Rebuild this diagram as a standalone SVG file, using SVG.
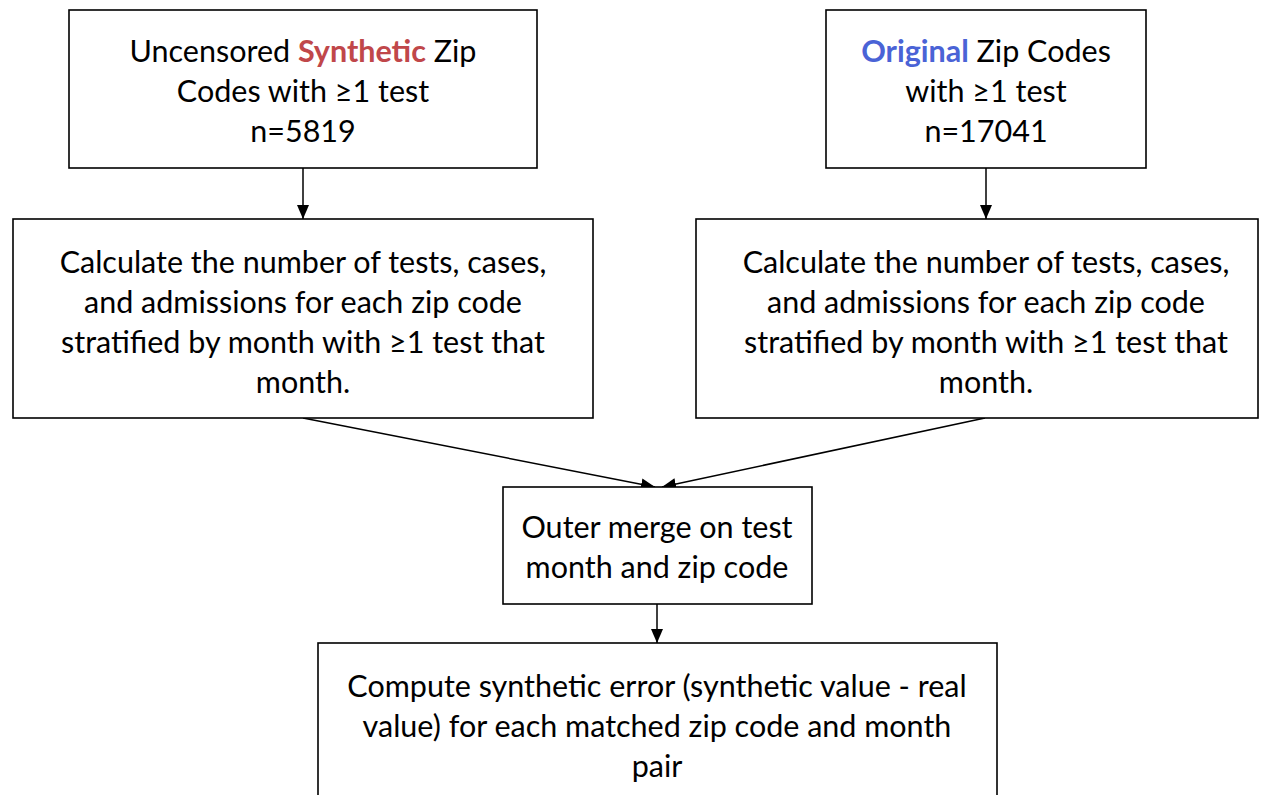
<svg xmlns="http://www.w3.org/2000/svg" width="1263" height="795" viewBox="0 0 1263 795">
  <style>
    .box { fill: #ffffff; stroke: #000000; stroke-width: 1.6; }
    .label { font-family: Lato, "Open Sans", sans-serif; font-size: 30.5px; fill: #000000; text-anchor: middle; }
    .syn { fill: #c0474a; font-weight: bold; }
    .orig { fill: #4a63d6; font-weight: bold; }
    .edge { stroke: #000000; stroke-width: 1.5; fill: none; marker-end: url(#arrow); }
  </style>
  <defs>
    <marker id="arrow" viewBox="0 0 14 12" refX="14" refY="6" markerWidth="14" markerHeight="12" markerUnits="userSpaceOnUse" orient="auto">
      <path d="M0,0 L14,6 L0,12 z" fill="#000000"/>
    </marker>
  </defs>
  <rect width="1263" height="795" fill="#ffffff"/>

  <g id="connectors">
    <line class="edge" x1="303" y1="168" x2="303" y2="219"/>
    <line class="edge" x1="986" y1="168" x2="986" y2="219"/>
    <line class="edge" x1="303" y1="418" x2="655" y2="487"/>
    <line class="edge" x1="985" y1="418" x2="662" y2="487"/>
    <line class="edge" x1="657" y1="604" x2="657" y2="643"/>
  </g>

  <g id="synthetic-zips">
    <rect class="box" x="69" y="10" width="468" height="158"/>
    <text class="label" x="303" y="62">Uncensored <tspan class="syn">Synthetic</tspan> Zip</text>
    <text class="label" x="303" y="102">Codes with ≥1 test</text>
    <text class="label" x="303" y="142">n=5819</text>
  </g>

  <g id="original-zips">
    <rect class="box" x="826" y="10" width="320" height="158"/>
    <text class="label" x="986" y="62"><tspan class="orig">Original</tspan> Zip Codes</text>
    <text class="label" x="986" y="102">with ≥1 test</text>
    <text class="label" x="986" y="142">n=17041</text>
  </g>

  <g id="synthetic-counts">
    <rect class="box" x="13" y="219" width="580" height="199"/>
    <text class="label" x="303" y="273">Calculate the number of tests, cases,</text>
    <text class="label" x="303" y="313">and admissions for each zip code</text>
    <text class="label" x="303" y="353">stratified by month with ≥1 test that</text>
    <text class="label" x="303" y="393">month.</text>
  </g>

  <g id="original-counts">
    <rect class="box" x="696" y="219" width="562" height="199"/>
    <text class="label" x="986" y="273">Calculate the number of tests, cases,</text>
    <text class="label" x="986" y="313">and admissions for each zip code</text>
    <text class="label" x="986" y="353">stratified by month with ≥1 test that</text>
    <text class="label" x="986" y="393">month.</text>
  </g>

  <g id="outer-merge">
    <rect class="box" x="503" y="487" width="309" height="117"/>
    <text class="label" x="657" y="538">Outer merge on test</text>
    <text class="label" x="657" y="578">month and zip code</text>
  </g>

  <g id="synthetic-error">
    <rect class="box" x="318" y="643" width="679" height="170"/>
    <text class="label" x="657" y="697">Compute synthetic error (synthetic value - real</text>
    <text class="label" x="657" y="737">value) for each matched zip code and month</text>
    <text class="label" x="657" y="777">pair</text>
  </g>
</svg>
